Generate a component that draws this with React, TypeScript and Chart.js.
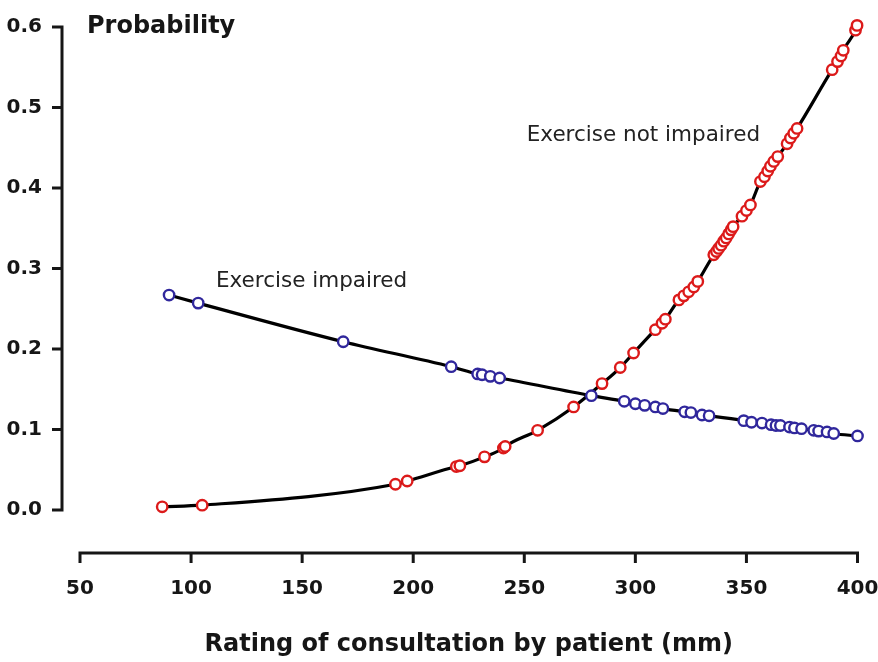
import { useEffect, useRef } from "react";
import { Chart, registerables } from "chart.js";

Chart.register(...registerables);

// ---- data ----
const xTicks = [50, 100, 150, 200, 250, 300, 350, 400];
const yTicks = [0.0, 0.1, 0.2, 0.3, 0.4, 0.5, 0.6];

const impairedX = [90.1, 103.2, 168.5, 217.1, 229, 231, 234.7, 238.9, 280.2, 295, 300, 304.2, 309, 312.4, 322.2, 325, 330, 333.2, 348.8, 352.3, 357, 361.1, 363.3, 365.3, 369.4, 371.6, 374.8, 380.3, 382.5, 386.3, 389.3, 400];
const impairedY = [0.267, 0.257, 0.209, 0.178, 0.169, 0.168, 0.166, 0.164, 0.142, 0.135, 0.132, 0.130, 0.128, 0.126, 0.122, 0.121, 0.118, 0.117, 0.111, 0.109, 0.108, 0.106, 0.105, 0.105, 0.103, 0.102, 0.101, 0.099, 0.098, 0.097, 0.095, 0.092];

const notImpairedX = [87, 105, 192, 197.3, 219.4, 221, 232.1, 240.6, 241.4, 256, 272.2, 285, 293.2, 299.2, 309, 312, 313.5, 319.6, 321.8, 324, 326.3, 328.1, 335.3, 336.5, 337.5, 338.6, 339.8, 340.9, 342, 343.1, 344, 348, 350, 351.8, 356.3, 358.1, 359.6, 360.8, 362.3, 364.1, 368.3, 369.8, 371.3, 372.8, 388.6, 391, 392.6, 393.6, 399.1, 399.8];
const notImpairedY = [0.004, 0.006, 0.032, 0.036, 0.054, 0.055, 0.066, 0.077, 0.079, 0.099, 0.128, 0.157, 0.177, 0.195, 0.224, 0.232, 0.237, 0.261, 0.266, 0.271, 0.277, 0.284, 0.317, 0.321, 0.325, 0.329, 0.334, 0.338, 0.343, 0.348, 0.352, 0.365, 0.372, 0.379, 0.408, 0.414, 0.421, 0.427, 0.433, 0.439, 0.455, 0.462, 0.468, 0.474, 0.547, 0.557, 0.564, 0.571, 0.596, 0.602];

const xTitle = "Rating of consultation by patient (mm)";
const yTitle = "Probability";
const labels = [
  { text: "Exercise impaired", x: 111.2, y: 0.277 },
  { text: "Exercise not impaired", x: 251.1, y: 0.459 },
];

const FONT = "'DejaVu Sans', sans-serif";
const INK = "#161616";

const toPts = (xs: number[], ys: number[]) => xs.map((x, i) => ({ x, y: ys[i] }));

const rAxesPlugin = {
  id: "rAxes",
  afterDraw(chart: any) {
    const { ctx, chartArea, scales } = chart;
    const xs = scales.x;
    const ys = scales.y;
    ctx.save();
    ctx.strokeStyle = INK;
    ctx.lineWidth = 3;
    ctx.lineCap = "butt";
    // y axis
    const ax = chartArea.left - 18;
    ctx.beginPath();
    ctx.moveTo(ax, ys.getPixelForValue(yTicks[0]) + 1.5);
    ctx.lineTo(ax, ys.getPixelForValue(yTicks[yTicks.length - 1]) - 1.5);
    yTicks.forEach((v) => {
      const py = ys.getPixelForValue(v);
      ctx.moveTo(ax, py);
      ctx.lineTo(ax - 10, py);
    });
    ctx.stroke();
    // x axis
    const ay = chartArea.bottom + 43;
    ctx.beginPath();
    ctx.moveTo(xs.getPixelForValue(xTicks[0]) - 1.5, ay);
    ctx.lineTo(xs.getPixelForValue(xTicks[xTicks.length - 1]) + 1.5, ay);
    xTicks.forEach((v) => {
      const px = xs.getPixelForValue(v);
      ctx.moveTo(px, ay);
      ctx.lineTo(px, ay + 10);
    });
    ctx.stroke();

    // y title
    ctx.fillStyle = INK;
    ctx.textBaseline = "alphabetic";
    ctx.textAlign = "left";
    ctx.font = `bold 24px ${FONT}`;
    ctx.fillText(yTitle, chartArea.left + 7, chartArea.top + 6);

    // annotations
    ctx.font = `21.5px ${FONT}`;
    ctx.fillStyle = "#222";
    labels.forEach((l) => {
      ctx.fillText(l.text, xs.getPixelForValue(l.x), ys.getPixelForValue(l.y));
    });
    ctx.restore();
  },
};

export default function App() {
  const ref = useRef<HTMLCanvasElement | null>(null);
  useEffect(() => {
    if (!ref.current) return;
    const chart = new Chart(ref.current, {
      type: "scatter",
      data: {
        datasets: [
          {
            label: "Exercise impaired (points)",
            data: toPts(impairedX, impairedY),
            showLine: false,
            pointRadius: 5.2,
            pointBorderWidth: 2.4,
            pointBorderColor: "#30279c",
            pointBackgroundColor: "#ffffff",
            order: 1,
            clip: false,
          },
          {
            label: "Exercise not impaired (points)",
            data: toPts(notImpairedX, notImpairedY),
            showLine: false,
            pointRadius: 5.2,
            pointBorderWidth: 2.4,
            pointBorderColor: "#dc1a1a",
            pointBackgroundColor: "#ffffff",
            order: 0,
            clip: false,
          },
          {
            label: "Exercise impaired (fit)",
            data: toPts(impairedX, impairedY),
            showLine: true,
            pointRadius: 0,
            borderColor: "#000000",
            borderWidth: 3.2,
            cubicInterpolationMode: "monotone",
            order: 3,
            clip: false,
          },
          {
            label: "Exercise not impaired (fit)",
            data: toPts(notImpairedX, notImpairedY),
            showLine: true,
            pointRadius: 0,
            borderColor: "#000000",
            borderWidth: 3.2,
            cubicInterpolationMode: "monotone",
            order: 2,
            clip: false,
          },
        ],
      },
      options: {
        responsive: false,
        animation: false,
        events: [],
        layout: { padding: { top: 27, right: 20.5, left: 0, bottom: 0 } },
        plugins: {
          legend: { display: false },
          tooltip: { enabled: false },
          title: { display: false },
        },
        scales: {
          x: {
            type: "linear",
            min: 50,
            max: 400,
            grid: { display: false, drawTicks: false },
            border: { display: false },
            ticks: {
              stepSize: 50,
              padding: 67,
              color: INK,
              font: { family: FONT, weight: "bold", size: 20 },
            },
            afterBuildTicks: (s: any) => {
              s.ticks = xTicks.map((v) => ({ value: v }));
            },
            afterFit: (s: any) => {
              s.height = 152;
              s.paddingLeft = 0;
              s.paddingRight = 0;
            },
            title: {
              display: true,
              text: xTitle,
              color: INK,
              font: { family: FONT, weight: "bold", size: 24 },
              padding: { top: 0, bottom: 3 },
            },
          },
          y: {
            type: "linear",
            min: 0,
            max: 0.6,
            grid: { display: false, drawTicks: false },
            border: { display: false },
            ticks: {
              stepSize: 0.1,
              padding: 38,
              color: INK,
              font: { family: FONT, weight: "bold", size: 20 },
              callback: (v: any) => Number(v).toFixed(1),
            },
            afterBuildTicks: (s: any) => {
              s.ticks = yTicks.map((v) => ({ value: v }));
            },
            afterFit: (s: any) => {
              s.width = 80;
              s.paddingTop = 0;
              s.paddingBottom = 0;
            },
          },
        },
      } as any,
      plugins: [rAxesPlugin],
    });
    return () => chart.destroy();
  }, []);
  return (
    <div style={{ position: "absolute", left: 0, top: 0, width: 878, height: 662, background: "#fff" }}>
      <canvas ref={ref} width={878} height={662} style={{ display: "block" }} />
    </div>
  );
}
